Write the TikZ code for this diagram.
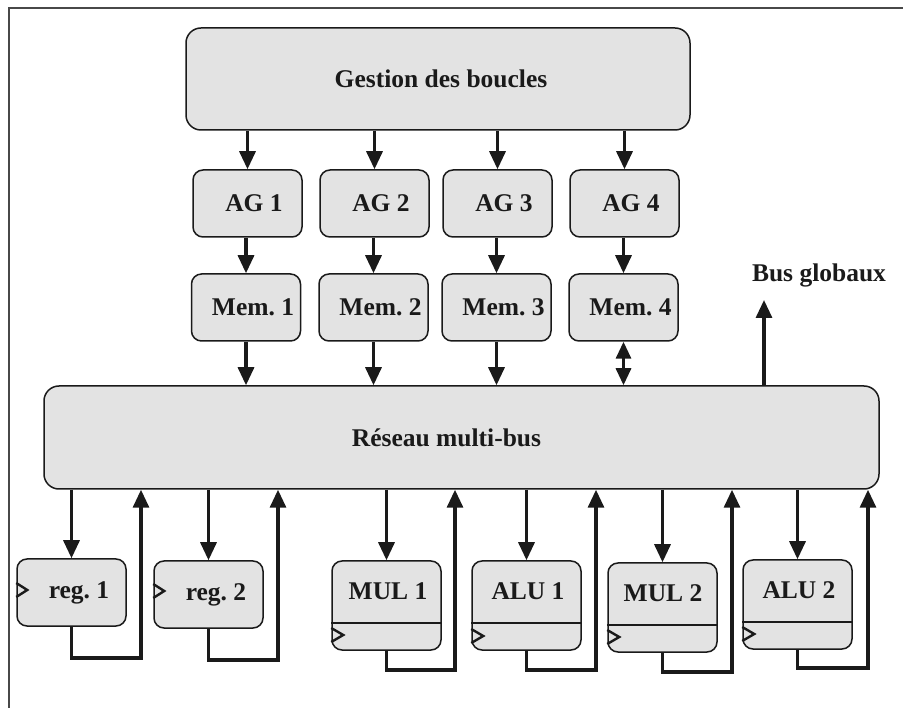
\documentclass[tikz,border=0pt]{standalone}
\usepackage{fontspec}
\setmainfont{Liberation Serif}
\usetikzlibrary{arrows.meta}
\definecolor{boxfill}{HTML}{E3E3E3}
\definecolor{ink}{HTML}{1A1A1A}
\frenchspacing
\begin{document}
\begin{tikzpicture}[x=1pt,y=-1pt,
 box/.style={draw=ink, fill=boxfill, line width=1.5pt, rounded corners=10pt, inner sep=0pt, minimum width=109pt, minimum height=67pt},
 bigbox/.style={box, rounded corners=15pt},
 unit/.style={box, minimum height=89pt},
 lbl/.style={font=\fontsize{25.5}{30}\selectfont\bfseries, text=ink},
 arr/.style={draw=ink, line width=3.2pt, -{Triangle[length=18pt,width=16pt]}},
 biarr/.style={draw=ink, line width=3.2pt, {Triangle[length=17pt,width=15pt]}-{Triangle[length=17pt,width=15pt]}},
 wire/.style={draw=ink, line width=3.2pt, line join=miter},
 clk/.style={draw=ink, line width=2.4pt},
 divider/.style={draw=ink, line width=2.8pt},
 frame/.style={draw=ink!80, line width=1.5pt}]
\useasboundingbox (0,0) rectangle (903,708);
\draw[frame] (9,708) -- (9,8) -- (903,8);

% top
\node[bigbox, minimum width=504pt, minimum height=102pt, label={[lbl,xshift=3pt]center:Gestion des boucles}] (gest) at (438,79) {};

% AG row
\node[box, label={[lbl,xshift=6.5pt]center:AG 1}] (ag1) at (247.5,203.5) {};
\node[box, label={[lbl,xshift=6.5pt]center:AG 2}] (ag2) at (374.5,203.5) {};
\node[box, label={[lbl,xshift=6.5pt]center:AG 3}] (ag3) at (497.5,203.5) {};
\node[box, label={[lbl,xshift=6.5pt]center:AG 4}] (ag4) at (624.5,203.5) {};

% Mem row
\node[box, label={[lbl,xshift=7pt]center:Mem. 1}] (mem1) at (246,307.5) {};
\node[box, label={[lbl,xshift=7pt]center:Mem. 2}] (mem2) at (373.5,307.5) {};
\node[box, label={[lbl,xshift=7pt]center:Mem. 3}] (mem3) at (496.5,307.5) {};
\node[box, label={[lbl,xshift=7pt]center:Mem. 4}] (mem4) at (623.5,307.5) {};

% network
\node[bigbox, minimum width=835pt, minimum height=103pt, label={[lbl,xshift=-15pt]center:Réseau multi-bus}] (res) at (461.5,437.5) {};

% units
\node[box, label={[lbl,xshift=7.5pt]center:reg. 1}] (reg1) at (71.5,592.5) {};
\node[box, label={[lbl,xshift=7.5pt]center:reg. 2}] (reg2) at (208.5,594.5) {};
\node[unit, label={[lbl,xshift=1.5pt,yshift=14pt]center:MUL 1}] (mul1) at (386.5,605.5) {};
\node[unit, label={[lbl,xshift=1.5pt,yshift=14pt]center:ALU 1}] (alu1) at (526.5,605.5) {};
\node[unit, label={[lbl,xshift=0.5pt,yshift=14pt]center:MUL 2}] (mul2) at (662.5,607.5) {};
\node[unit, label={[lbl,xshift=1.5pt,yshift=14pt]center:ALU 2}] (alu2) at (797.5,604.5) {};

% dividers
\draw[divider] (mul1.west |- 0,623) -- (mul1.east |- 0,623);
\draw[divider] (alu1.west |- 0,623) -- (alu1.east |- 0,623);
\draw[divider] (mul2.west |- 0,625) -- (mul2.east |- 0,625);
\draw[divider] (alu2.west |- 0,622) -- (alu2.east |- 0,622);

% clock marks
\draw[clk] (reg1.west |- 0,583) -- ++(11,7) -- ++(-11,7);
\draw[clk] (reg2.west |- 0,584) -- ++(11,7) -- ++(-11,7);
\draw[clk] (mul1.west |- 0,628) -- ++(12,7) -- ++(-12,7);
\draw[clk] (alu1.west |- 0,629) -- ++(12,7) -- ++(-12,7);
\draw[clk] (mul2.west |- 0,630) -- ++(12,7) -- ++(-12,7);
\draw[clk] (alu2.west |- 0,627) -- ++(12,7) -- ++(-12,7);

% top arrows
\foreach \n in {1,2,3,4} {
  \draw[arr] (ag\n.north |- gest.south) -- (ag\n.north);
  \draw[arr] (ag\n.south -| mem\n.north) -- (mem\n.north);
}
\foreach \n in {1,2,3} {
  \draw[arr] (mem\n.south) -- (mem\n.south |- res.north);
}
\draw[biarr] (mem4.south) -- (mem4.south |- res.north);

% bus globaux
\coordinate (bgtip) at (764,300);
\draw[arr] (bgtip |- res.north) -- (bgtip);
\node[lbl, anchor=base] (bg) at (819,282) {Bus globaux};

% down arrows to units
\foreach \u in {reg1,reg2,mul1,alu1,mul2,alu2} {
  \draw[arr] (\u.north |- res.south) -- (\u.north);
}

% feedback loops
\coordinate (c1) at (141,658);
\coordinate (c2) at (278,660);
\coordinate (c3) at (455,670);
\coordinate (c4) at (596,670);
\coordinate (c5) at (732,672);
\coordinate (c6) at (868,668);
\draw[wire, arr] (reg1.south) |- (c1) -- (c1 |- res.south);
\draw[wire, arr] (reg2.south) |- (c2) -- (c2 |- res.south);
\draw[wire, arr] (mul1.south) |- (c3) -- (c3 |- res.south);
\draw[wire, arr] (alu1.south) |- (c4) -- (c4 |- res.south);
\draw[wire, arr] (mul2.south) |- (c5) -- (c5 |- res.south);
\draw[wire, arr] (alu2.south) |- (c6) -- (c6 |- res.south);
\end{tikzpicture}
\end{document}
